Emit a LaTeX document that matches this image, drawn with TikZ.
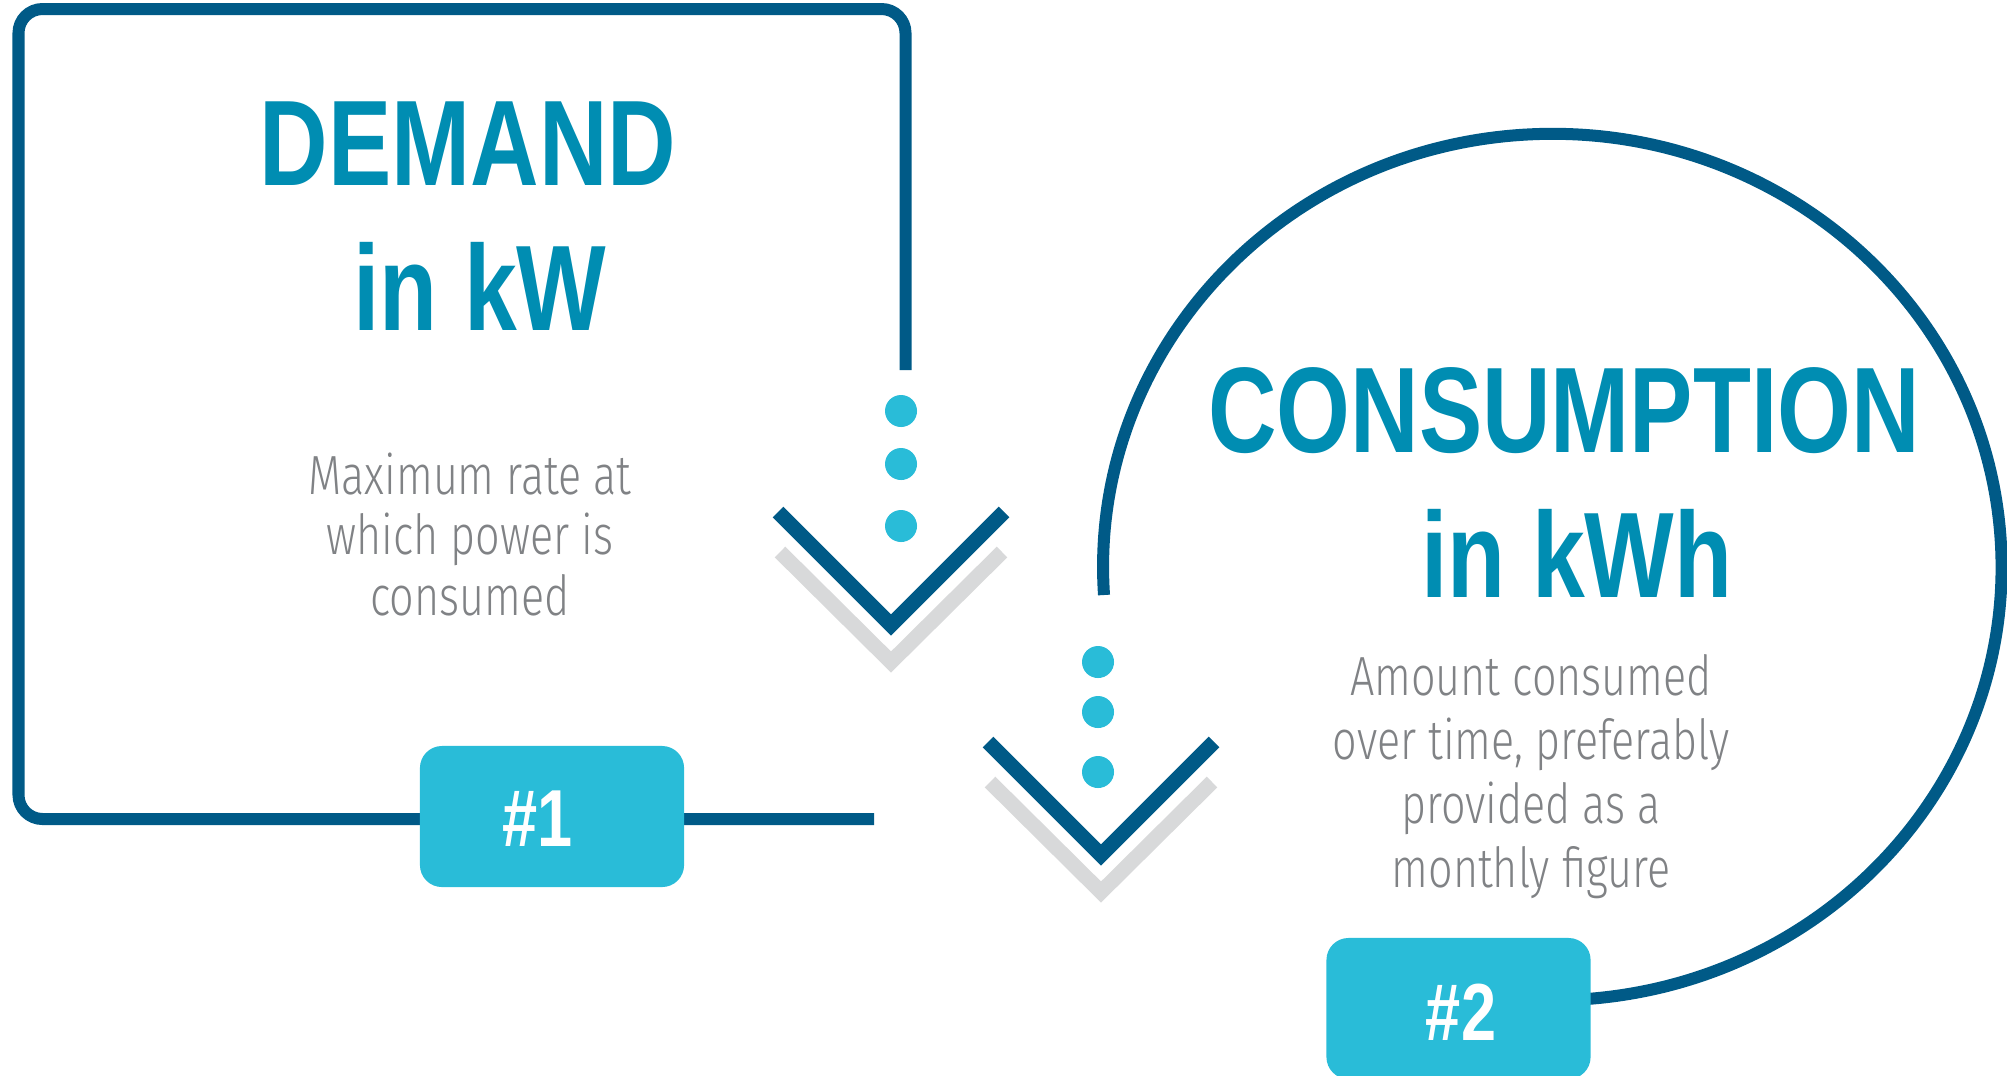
\documentclass[tikz,border=0pt]{standalone}
\usepackage{fontspec}
\usepackage{tikz}
\newfontfamily\headfont[FakeStretch=0.78]{Liberation Sans Bold}
\newfontfamily\descfont[FakeStretch=0.78]{Fira Sans Light}
\definecolor{linenavy}{HTML}{005A87}
\definecolor{titleteal}{HTML}{008DB2}
\definecolor{badgecyan}{HTML}{29BCD8}
\definecolor{textgray}{HTML}{808285}
\definecolor{shadowgray}{HTML}{D8D9DA}
\tikzset{
  frame/.style={draw=linenavy, line width=0.12cm},
  chev/.style={draw=linenavy, line width=0.15cm},
  chevshadow/.style={draw=shadowgray, line width=0.15cm},
  dot/.style={circle, fill=badgecyan, inner sep=0pt, minimum size=0.32cm},
  title/.style={text=titleteal, font=\headfont\fontsize{34.6}{41.2}\selectfont, align=center, anchor=base, inner sep=0pt},
  desc/.style={text=textgray, font=\descfont\fontsize{15.7}{17.1}\selectfont, align=center, anchor=base, inner sep=0pt},
  descwide/.style={desc, font=\descfont\fontsize{15.7}{18.2}\selectfont},
  badge/.style={fill=badgecyan, rounded corners=0.22cm, minimum width=2.64cm, minimum height=1.41cm, inner sep=0pt},
  badgetext/.style={text=white, font=\headfont\fontsize{23}{23}\selectfont, inner sep=0pt}
}
\begin{document}
\begin{tikzpicture}[x=0.01cm, y=-0.01cm]
\useasboundingbox (0,0) rectangle (2007,1075);
\coordinate (boxtop) at (905.5,370);
\coordinate (boxend) at (874,819);
\draw [frame, rounded corners=0.24cm] (boxtop) -- (905.5,9) -- (18.5,9) -- (18.5,819) -- (boxend);
\coordinate (ringstart) at (1104,595);
\draw [frame] (ringstart) arc [start angle=183.7, end angle=-85.3, x radius=4.49cm, y radius=4.33cm] coordinate (ringend);
\foreach \vx/\vy in {891/625, 1101/855} {
  \draw [chevshadow] (\vx-111,\vy-73) -- (\vx,\vy+37) -- (\vx+111,\vy-73);
  \draw [chev] (\vx-113,\vy-113) -- (\vx,\vy) -- (\vx+113,\vy-113);
}
\foreach \y [count=\i] in {411,464,526}
  \node [dot] (dota\i) at (901,\y) {};
\foreach \y [count=\i] in {662,712,772}
  \node [dot] (dotb\i) at (1098,\y) {};
\node [title] (demand) at (468,330) {DEMAND\\\hspace*{0.24cm}in kW};
\node [desc] (demanddesc) at (470,615) {Maximum rate at\\which power is\\consumed};
\node [title] (consumption) at (1564,597) {CONSUMPTION\\\hspace*{0.26cm}in kWh};
\node [descwide] (consumptiondesc) at (1531,887) {Amount consumed\\over time, preferably\\provided as a\\monthly figure};
\node [badge] (badgeone) at (552,816.5) {};
\node [badgetext] (numone) at (538,819) {\#1};
\node [badge] (badgetwo) at (1458.5,1008.5) {};
\node [badgetext] (numtwo) at (1461,1012.5) {\#2};
\end{tikzpicture}
\end{document}
